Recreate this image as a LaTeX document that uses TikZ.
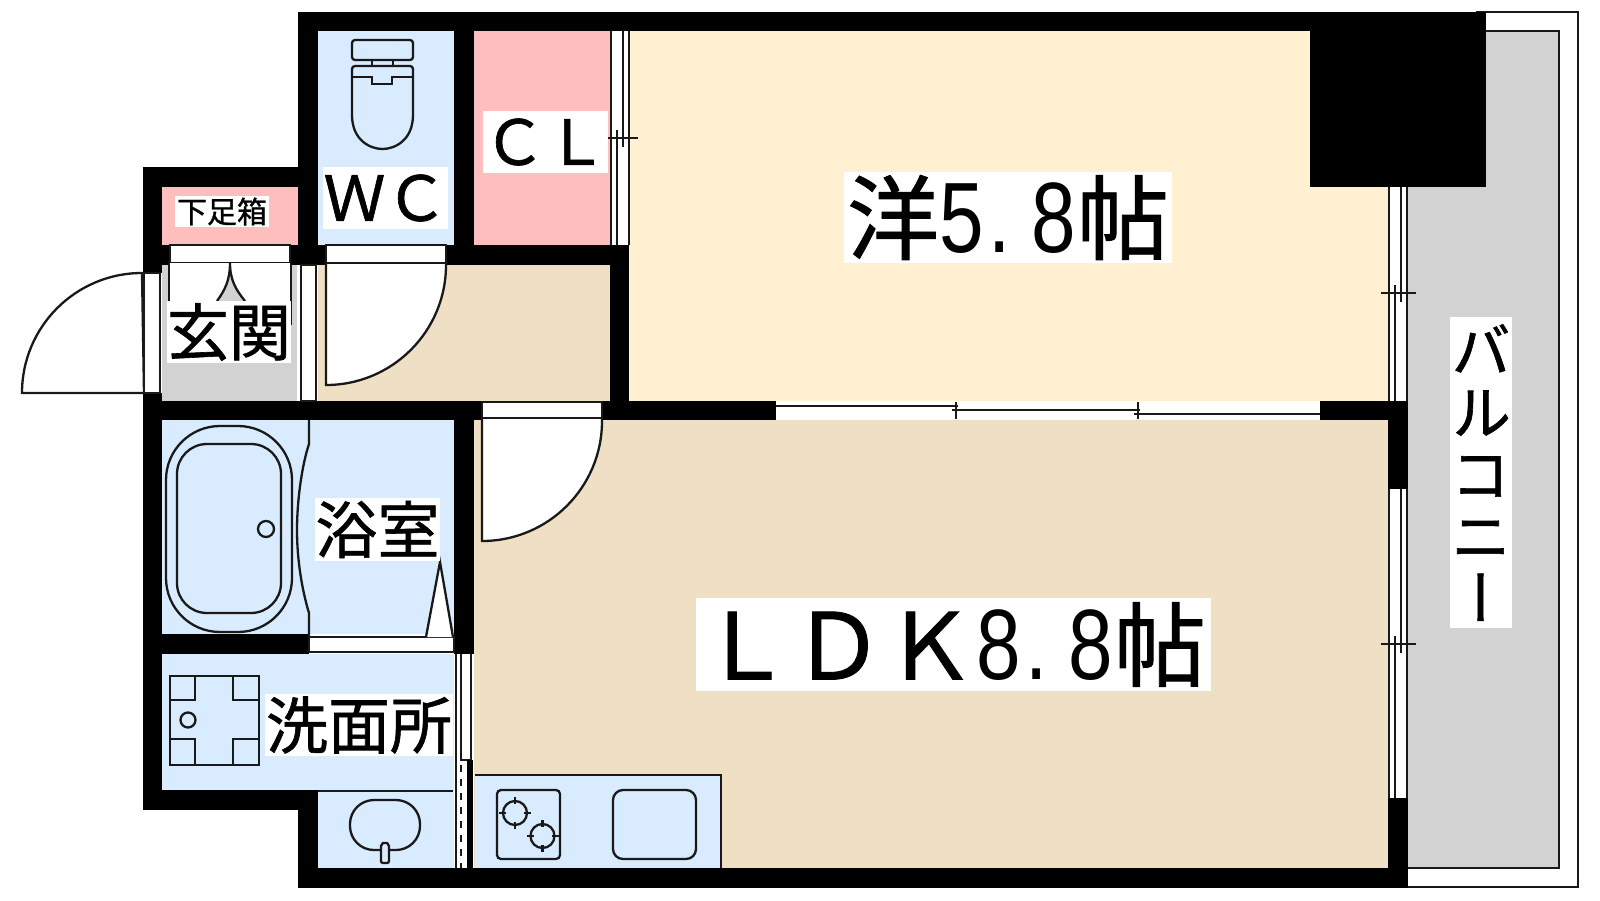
\documentclass[tikz,border=0pt]{standalone}
\usepackage{fontspec}
\setmainfont[FakeBold=1]{Noto Sans CJK JP}
\newfontfamily\latinfont[FakeStretch=0.8]{Liberation Sans}
\newfontfamily\vertfont[RawFeature={+vert},FakeBold=1]{Noto Sans CJK JP}
\usepackage{tikz}

\definecolor{wetblue}{RGB}{217,235,255}
\definecolor{closetpink}{RGB}{255,190,190}
\definecolor{roomcream}{RGB}{255,240,209}
\definecolor{floortan}{RGB}{238,223,197}
\definecolor{floorgray}{RGB}{210,210,210}

% sliding window: x, top, tick, bottom
\newcommand{\slidewin}[4]{
	\fill[white] (#1,#2) rectangle ({#1+18},#4);
	\draw[fixture] (#1,#2) -- (#1,#4);
	\draw[fixture] ({#1+18},#2) -- ({#1+18},#4);
	\draw[fixture] ({#1+12},#2) -- ({#1+12},{#3+9});
	\draw[fixture] ({#1+6},{#3-8}) -- ({#1+6},#4);
	\draw[fixture] ({#1-8},#3) -- ({#1+27},#3);
}
% half width digit cell of the big labels
\newcommand{\cell}[1]{\makebox[23pt]{\fontsize{50}{50}\latinfont #1}}
\newcommand{\dotcell}{\makebox[23pt][l]{\kern2pt\fontsize{50}{50}\latinfont .}}

\begin{document}
\begin{tikzpicture}[x=0.5pt,y=-0.5pt,
	fixture/.style={draw=black!90,line width=1.15pt},
	wall/.style={fill=black},
	label/.style={fill=white,inner sep=0pt,font=\fontsize{31}{31}\selectfont},
	biglabel/.style={fill=white,inner sep=0pt,font=\fontsize{46}{46}\selectfont}]
	\useasboundingbox (0,0) rectangle (1600,900);
	\fill[white] (0,0) rectangle (1600,900);

	% floors
	\fill[floorgray] (1408,31) rectangle (1559,868);
	\fill[roomcream] (629,31) rectangle (1388,401);
	\fill[floortan] (474,420) rectangle (1388,868);
	\fill[floortan] (318,265) rectangle (610,401);
	\fill[floorgray] (162,265) rectangle (297,401);
	\fill[closetpink] (162,187) rectangle (298,245);
	\fill[closetpink] (474,31) rectangle (610,245);
	\fill[wetblue] (318,31) rectangle (454,245);
	\fill[wetblue] (162,420) rectangle (454,634);
	\fill[wetblue] (162,654) rectangle (454,790);
	\fill[wetblue] (318,790) rectangle (454,868);
	\fill[wetblue] (475,775) rectangle (721,868);
	\draw[fixture] (475,775) -- (721,775) -- (721,868);

	% balcony edges
	\draw[fixture] (1486,31) -- (1559,31) -- (1559,868) -- (1408,868);
	\draw[fixture] (1476,12) -- (1578,12) -- (1578,887) -- (1307,887);

	% walls
	\fill[wall] (298,12) rectangle (1310,31);
	\fill[wall] (1310,12) rectangle (1486,187);
	\fill[wall] (143,167) rectangle (298,187);
	\fill[wall] (143,167) rectangle (162,273);
	\fill[wall] (298,12) rectangle (318,245);
	\fill[wall] (454,31) rectangle (474,245);
	\fill[wall] (143,245) rectangle (170,265);
	\fill[wall] (290,245) rectangle (326,265);
	\fill[wall] (446,245) rectangle (629,265);
	\fill[wall] (610,245) rectangle (629,401);
	\fill[wall] (143,401) rectangle (482,420);
	\fill[wall] (602,401) rectangle (776,420);
	\fill[wall] (1320,401) rectangle (1408,420);
	\fill[wall] (143,393) rectangle (162,810);
	\fill[wall] (454,420) rectangle (474,654);
	\fill[wall] (143,634) rectangle (309,654);
	\fill[wall] (143,790) rectangle (318,810);
	\fill[wall] (298,790) rectangle (318,888);
	\fill[wall] (298,868) rectangle (1408,888);
	\fill[wall] (1388,401) rectangle (1408,489);
	\fill[wall] (1388,798) rectangle (1408,888);

	% door swings
	\draw[fixture,fill=white] (144,393) -- (22,393) arc[start angle=180,end angle=90,radius=60pt] -- (144,393);
	\draw[fixture,fill=white] (326,263) -- (326,385) arc[start angle=-90,end angle=0,radius=60pt] -- (446,263);
	\draw[fixture,fill=white] (482,418) -- (482,541) arc[start angle=-90,end angle=0,radius=60pt] -- (602,418);

	% door frames
	\draw[fixture,fill=white] (170,245) rectangle (290,263);
	\draw[fixture,fill=white] (326,245) rectangle (446,263);
	\draw[fixture,fill=white] (482,402) rectangle (602,418);
	\draw[fixture,fill=white] (144,273) rectangle (160,393);
	\fill[white] (297,265) rectangle (318,401);
	\draw[fixture,fill=white] (301,265) rectangle (316,401);
	\draw[fixture,fill=white] (309,637) rectangle (454,652);

	% shoe cupboard doors
	\fill[white] (170,263) rectangle (291,325);
	\draw[fixture] (169,263) -- (169,301);
	\draw[fixture] (291,263) -- (291,325);
	\draw[fixture,fill=floorgray] (217,301) .. controls (225,290) and (230,280) .. (230,263) .. controls (230,280) and (236,290) .. (245,301);

	% windows
	\slidewin{611}{31}{138}{245}
	\slidewin{1389}{187}{293}{401}
	\slidewin{1389}{489}{644}{798}
	\fill[white] (776,401) rectangle (1320,420);
	\draw[fixture] (776,406) -- (958,406);
	\draw[fixture] (952,410) -- (1140,410);
	\draw[fixture] (1134,414) -- (1320,414);
	\foreach \xpos in {956,1138}
		\draw[fixture] (\xpos,402) -- (\xpos,419);
	\fill[white] (456,654) rectangle (471,868);
	\draw[fixture] (456,654) -- (456,868);
	\draw[fixture] (471,654) -- (471,760);
	\draw[fixture] (461,654) -- (461,760) -- (471,760);
	\draw[fixture,dash pattern=on 3.5pt off 3.5pt] (461,765) -- (461,868);
	\fill[wall] (467,760) rectangle (473,868);

	% toilet
	\draw[fixture,rounded corners=1.5pt] (352,40) rectangle (413,60);
	\draw[fixture] (372,60) -- (372,66);
	\draw[fixture] (393,60) -- (393,66);
	\draw[fixture,rounded corners=1.5pt] (352,115) -- (352,66) -- (413,66) -- (413,115);
	\draw[fixture] (352,115) .. controls (352,140) and (370,149) .. (382.5,149) .. controls (395,149) and (413,140) .. (413,115);
	\draw[fixture] (352,77) -- (372,77) -- (372,84) -- (392,84) -- (392,77) -- (413,77);

	% bath
	\draw[fixture,rounded corners=27pt] (166,426) rectangle (292,632);
	\draw[fixture,rounded corners=15pt] (177,444) rectangle (281,613);
	\draw[fixture] (266,529) circle (8);
	\draw[fixture] (309,420) -- (309,444) .. controls (302,465) and (297,500) .. (297,530) .. controls (297,560) and (302,590) .. (309,613) -- (309,637);
	\draw[fixture,fill=white] (426,637) -- (440,562) -- (453,637);

	% washing pan
	\draw[fixture] (170,676) rectangle (259,765);
	\draw[fixture] (195,676) -- (195,700) -- (170,700);
	\draw[fixture] (233,676) -- (233,700) -- (259,700);
	\draw[fixture] (195,765) -- (195,739) -- (170,739);
	\draw[fixture] (233,765) -- (233,739) -- (259,739);
	\draw[fixture] (188,720) circle (7.5);

	% basin
	\draw[fixture] (318,791) -- (453,791);
	\draw[fixture,rounded corners=12pt] (350,800) rectangle (420,850);
	\draw[fixture,fill=wetblue,rounded corners=1pt] (381,863) -- (381,844) -- (385,842) -- (389,844) -- (389,863) -- cycle;

	% kitchen
	\draw[fixture,rounded corners=2pt] (497,790) rectangle (560,859);
	\draw[fixture,rounded corners=5pt] (613,790) rectangle (696,859);
	\foreach \bx/\by in {515/813,542.5/836}{
		\draw[fixture] (\bx,\by) circle (12);
		\foreach \ang in {0,90,180,270}
			\draw[fixture] (\bx,\by) ++(\ang:4.5pt) -- ++(\ang:3.5pt);
	}

	% labels
	\node[fill=white,inner sep=0pt,minimum width=47pt,minimum height=15.5pt,font=\fontsize{15}{15}\selectfont] (shoebox) at (222,211.5) {下足箱};
	\node[label,minimum width=62pt,minimum height=31pt] (genkan) at (229,332) {玄関};
	\node[label,minimum width=62.5pt,minimum height=31pt] (wc) at (385.5,198) {ＷＣ};
	\node[label,minimum width=62.5pt,minimum height=31pt] (cl) at (545.5,142) {ＣＬ};
	\node[label,minimum width=62.5pt,minimum height=31.5pt] (bath) at (377.5,529.5) {浴室};
	\node[label,minimum width=94pt,minimum height=31pt] (wash) at (359,725) {洗面所};
	\node[biglabel,minimum width=164pt,minimum height=45.5pt] (westroom) at (1008,217.5) {洋\cell{5}\dotcell\cell{8}帖};
	\node[biglabel,minimum width=257.5pt,minimum height=46.5pt] (ldk) at (953,644.5) {ＬＤＫ\cell{8}\dotcell\cell{8}帖};
	\node[fill=white,inner sep=0pt,minimum width=31pt,minimum height=155.5pt,align=center,font=\vertfont\fontsize{30}{31}\selectfont] (balcony) at (1481,472.5) {バ\\ル\\コ\\ニ\\ー};
\end{tikzpicture}
\end{document}
